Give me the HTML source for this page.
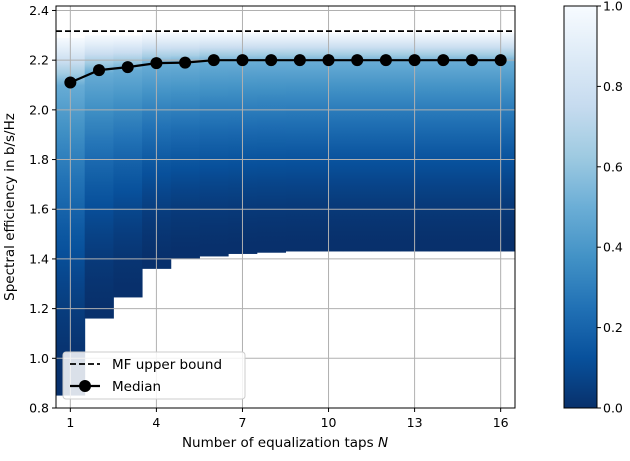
<!DOCTYPE html>
<html><head><meta charset="utf-8"><style>
body{margin:0;background:#fff}
svg text{font-family:"DejaVu Sans","Liberation Sans",sans-serif;fill:#000}
</style></head><body>
<svg id="chart" width="630" height="456" xmlns="http://www.w3.org/2000/svg">
<defs id="defs"></defs>
<g id="plot"></g>
</svg>
<script>
const taps=[1,2,3,4,5,6,7,8,9,10,11,12,13,14,15,16];
const medians=[2.11,2.16,2.172,2.188,2.19,2.2,2.2,2.2,2.2,2.2,2.2,2.2,2.2,2.2,2.2,2.2];
const minVals=[0.85,1.16,1.245,1.36,1.40,1.41,1.42,1.425,1.43,1.43,1.43,1.43,1.43,1.43,1.43,1.43];
const maxVals=[2.29,2.3,2.3,2.31,2.31,2.31,2.31,2.31,2.31,2.31,2.31,2.31,2.31,2.31,2.31,2.31];
const upperBound=2.317;
const xTicks=[1,4,7,10,13,16];
const yTicks=[0.8,1.0,1.2,1.4,1.6,1.8,2.0,2.2,2.4];
const cbTicks=[0.0,0.2,0.4,0.6,0.8,1.0];

const L=56,R=515,T=6,B=408;
const xs=v=>L+(v-0.5)/16*(R-L);
const ys=v=>B-(v-0.8)/1.618*(B-T);
const blues=[[247,251,255],[222,235,247],[198,219,239],[158,202,225],[107,174,214],[66,146,198],[33,113,181],[8,81,156],[8,48,107]];
function cmap(v){const t=(1-Math.max(0,Math.min(1,v)))*8;const i=Math.min(7,Math.floor(t));const f=t-i;const a=blues[i],b=blues[i+1];
return `rgb(${a.map((c,k)=>Math.round(c+(b[k]-c)*f)).join(',')})`;}
const NS='http://www.w3.org/2000/svg';
const defs=document.getElementById('defs'),g=document.getElementById('plot');
function el(tag,attrs,parent){const e=document.createElementNS(NS,tag);for(const k in attrs)e.setAttribute(k,attrs[k]);(parent||g).appendChild(e);return e;}

taps.forEach((n,i)=>{
  const gr=el('linearGradient',{id:'g'+i,gradientUnits:'userSpaceOnUse',x1:0,x2:0,y1:ys(minVals[i]),y2:ys(maxVals[i])},defs);
  for(let s=0;s<=30;s++){const y=minVals[i]+(maxVals[i]-minVals[i])*s/30;
    let v;
    if(y<=medians[i]){const t=(y-minVals[i])/(medians[i]-minVals[i]);v=0.5*Math.pow(t,1.8);}
    else{const t=(y-medians[i])/(maxVals[i]-medians[i]);v=0.5+0.5*Math.pow(t,0.8);}
    el('stop',{offset:s/30,'stop-color':cmap(v)},gr);}
  const r=el('rect',{x:xs(n-0.5),y:ys(maxVals[i]),width:xs(n+0.5)-xs(n-0.5)+0.5,height:ys(minVals[i])-ys(maxVals[i]),fill:`url(#g${i})`});
  
  
});
xTicks.forEach(t=>{const l=el('line',{x1:xs(t),x2:xs(t),y1:T,y2:B,stroke:'#b0b0b0','stroke-width':1});

const tk=el('line',{x1:xs(t),x2:xs(t),y1:B,y2:B+4,stroke:'#000'});
const tx=el('text',{x:xs(t),y:B+19,'text-anchor':'middle','font-size':12.5});tx.textContent=t;
});
yTicks.forEach(t=>{const l=el('line',{x1:L,x2:R,y1:ys(t),y2:ys(t),stroke:'#b0b0b0','stroke-width':1});

const tk=el('line',{x1:L-4,x2:L,y1:ys(t),y2:ys(t),stroke:'#000'});
const tx=el('text',{x:L-7,y:ys(t)+4.5,'text-anchor':'end','font-size':12.5});tx.textContent=t.toFixed(1);
});
const ub=el('line',{x1:L,x2:R,y1:ys(upperBound),y2:ys(upperBound),stroke:'#000','stroke-width':1.8,'stroke-dasharray':'6,3'});

const ml=el('polyline',{points:taps.map((n,i)=>xs(n)+','+ys(medians[i])).join(' '),fill:'none',stroke:'#000','stroke-width':2.2});

taps.forEach((n,i)=>{const c=el('circle',{cx:xs(n),cy:ys(medians[i]),r:6,fill:'#000'});
});
const fr=el('rect',{x:L,y:T,width:R-L,height:B-T,fill:'none',stroke:'#000','stroke-width':1});

const CL=564,CR=597;
const cg=el('linearGradient',{id:'cb',x1:0,x2:0,y1:1,y2:0},defs);
for(let s=0;s<=16;s++)el('stop',{offset:s/16,'stop-color':cmap(s/16)},cg);
const cb=el('rect',{x:CL,y:T,width:CR-CL,height:B-T,fill:'url(#cb)',stroke:'#000','stroke-width':1});

cbTicks.forEach(t=>{const y=B-t*(B-T);const tk=el('line',{x1:CR,x2:CR+4,y1:y,y2:y,stroke:'#000'});

const tx=el('text',{x:CR+6,y:y+4.5,'font-size':12.5});tx.textContent=t.toFixed(1);
});
</script>
<svg style="position:absolute;left:0;top:0" width="630" height="456">
<text x="285" y="447" text-anchor="middle" font-size="13.5">Number of equalization taps <tspan font-style="italic">N</tspan></text>
<text transform="translate(14,207) rotate(-90)" text-anchor="middle" font-size="13.5">Spectral efficiency in b/s/Hz</text>
<g>
<rect x="63" y="352" width="182" height="47" rx="3" fill="#fff" fill-opacity="0.85" stroke="#ccc"/>
<line x1="70" y1="364" x2="100" y2="364" stroke="#000" stroke-width="1.8" stroke-dasharray="6,3"/>
<text x="112" y="369" font-size="13.5">MF upper bound</text>
<line x1="70" y1="386" x2="100" y2="386" stroke="#000" stroke-width="2.2"/>
<circle cx="85" cy="386" r="6" fill="#000"/>
<text x="112" y="391" font-size="13.5">Median</text>
</g>
</svg>
</body></html>
